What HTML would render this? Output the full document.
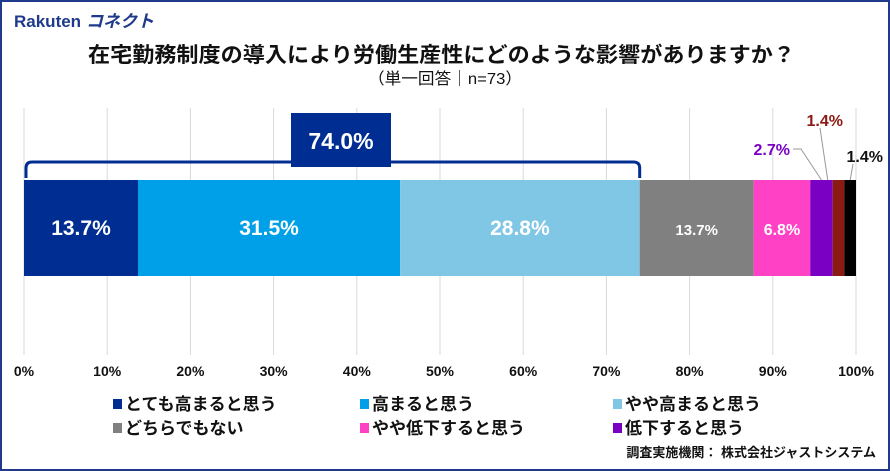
<!DOCTYPE html>
<html><head><meta charset="utf-8"><style>
body{margin:0;width:890px;height:471px;overflow:hidden;background:#fff;font-family:"Liberation Sans","Noto Sans CJK JP",sans-serif}
#frame{position:absolute;left:0;top:0;width:886px;height:467px;border:2px solid #1f3a8a}
</style></head><body>
<div id="frame"></div>
<svg width="890" height="471" style="position:absolute;left:0;top:0">
<g id="root"></g>
</svg>
<script>
const categories=["とても高まると思う","高まると思う","やや高まると思う","どちらでもない","やや低下すると思う","低下すると思う","全く高まらない","無回答"];
const values=[13.7,31.5,28.8,13.7,6.8,2.7,1.4,1.4];
const colors=["#002d91","#00a0e9","#7fc7e5","#808080","#ff42c5","#7a00c4","#8b1a12","#000000"];
const ticks=[0,10,20,30,40,50,60,70,80,90,100];
const bracketTotal=74.0;
const NS="http://www.w3.org/2000/svg";
const root=document.getElementById('root');
const x0=24,x1=856,barY=180,barH=96;
const xs=v=>x0+(x1-x0)*v/100;
function mk(t,a,txt){const e=document.createElementNS(NS,t);for(const k in a)e.setAttribute(k,a[k]);if(txt!=null)e.textContent=txt;root.appendChild(e);return e;}
let e=mk('text',{x:14,y:27,'font-size':17,'font-weight':'bold',fill:'#1f3a8a'},'Rakuten');

e=mk('text',{x:86,y:27,'font-size':17,'font-weight':'bold',fill:'#1f3a8a','font-style':'italic'},'コネクト');

e=mk('text',{x:88,y:62,'font-size':21,'font-weight':'bold',textLength:707,lengthAdjust:'spacingAndGlyphs',fill:'#111'},'在宅勤務制度の導入により労働生産性にどのような影響がありますか？');

e=mk('text',{x:368,y:84,'font-size':16,textLength:154,lengthAdjust:'spacingAndGlyphs',fill:'#111'},'（単一回答｜n=73）');

ticks.forEach(t=>{
 const g=mk('line',{x1:xs(t),x2:xs(t),y1:108,y2:355,stroke:'#d9d9d9','stroke-width':1});
 
 const l=mk('text',{x:xs(t),y:376,'font-size':14,'font-weight':'bold','text-anchor':'middle',fill:'#111'},t+'%');
 
});
let acc=0;
values.forEach((v,i)=>{
 const r=mk('rect',{x:xs(acc),y:barY,width:xs(acc+v)-xs(acc),height:barH,fill:colors[i]});
 
 const cx=(xs(acc)+xs(acc+v))/2;
 if(i<5){
  const fs=i<3?21:(i==3?15:16);
  const t=mk('text',{x:cx,y:barY+barH/2+7,'font-size':fs,'font-weight':'bold','text-anchor':'middle',fill:'#fff'},v.toFixed(1)+'%');
  
 }
 acc+=v;
});
function outLabel(idx,tx,ty,col,lx,ly){
 let a=0;for(let k=0;k<idx;k++)a+=values[k];
 const cx=(xs(a)+xs(a+values[idx]))/2;
 const l=mk('polyline',{points:`${lx},${ly} ${lx+8},${ly} ${cx},${barY}`,fill:'none',stroke:'#999','stroke-width':1});
 
 const t=mk('text',{x:tx,y:ty,'font-size':16,'font-weight':'bold','text-anchor':'end',fill:col},values[idx].toFixed(1)+'%');
 
}
outLabel(5,790,155,'#7a00c4',793,149);
e=mk('line',{x1:820,y1:128,x2:xs(96.6),y2:barY,stroke:'#999'});
e=mk('text',{x:843,y:126,'font-size':16,'font-weight':'bold','text-anchor':'end',fill:'#8b1a12'},values[6].toFixed(1)+'%');

e=mk('line',{x1:853,y1:164,x2:xs(99.3),y2:barY,stroke:'#999'});
e=mk('text',{x:883,y:162,'font-size':16,'font-weight':'bold','text-anchor':'end',fill:'#111'},values[7].toFixed(1)+'%');

const bx2=xs(bracketTotal);
e=mk('path',{d:`M${x0+2},178 L${x0+2},168 Q${x0+2},162 ${x0+8},162 L${bx2-6},162 Q${bx2},162 ${bx2},168 L${bx2},178`,fill:'none',stroke:'#002d91','stroke-width':3});

e=mk('rect',{x:291,y:113,width:100,height:54,fill:'#002d91'});

e=mk('text',{x:341,y:149,'font-size':23,'font-weight':'bold','text-anchor':'middle',fill:'#fff'},bracketTotal.toFixed(1)+'%');

const lx=[113,360,613];
for(let i=0;i<6;i++){
 const c=i%3,r=Math.floor(i/3);
 const X=lx[c],Y=410+r*24;
 const s=mk('rect',{x:X,y:Y-11,width:9,height:10,fill:colors[i]});
 
 const t=mk('text',{x:X+12,y:Y,'font-size':17,'font-weight':'bold',fill:'#111'},categories[i]);
 
}
e=mk('text',{x:876,y:457,'font-size':13,'font-weight':'bold','text-anchor':'end',fill:'#111'},'調査実施機関： 株式会社ジャストシステム');

</script>
</body></html>
